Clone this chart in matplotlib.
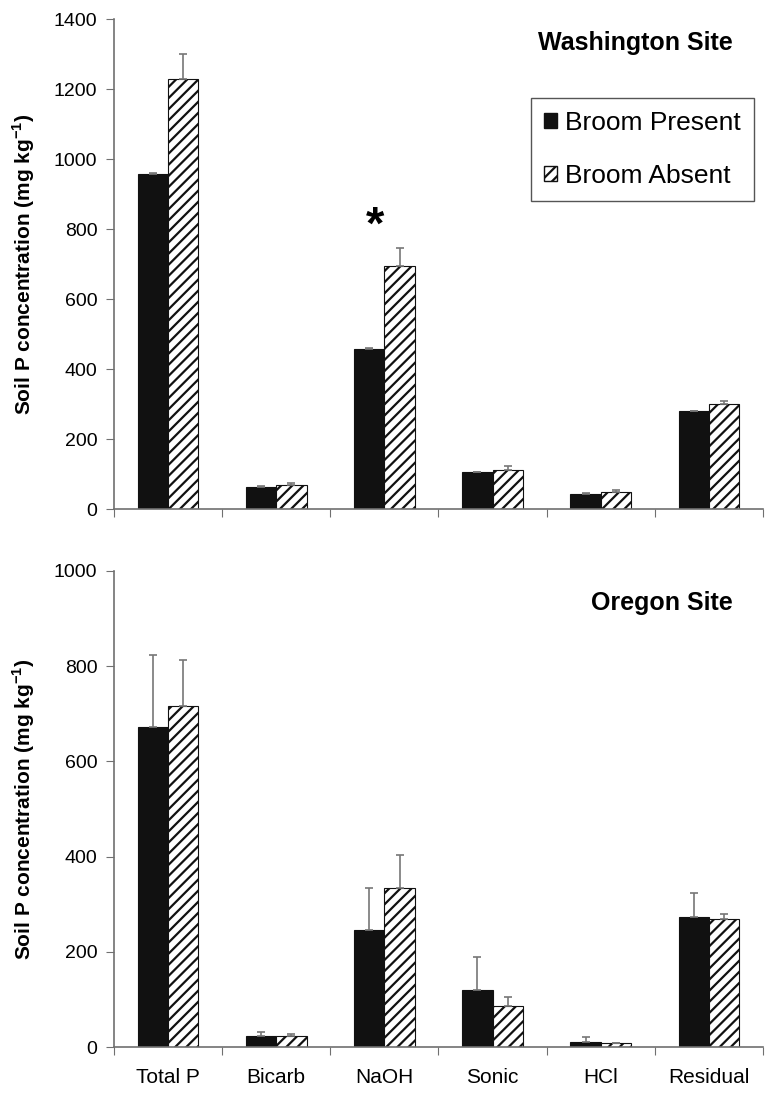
import numpy as np
import matplotlib
matplotlib.use('Agg')
import matplotlib.pyplot as plt
from matplotlib.patches import Patch

plt.rcParams['font.family'] = ['Liberation Sans', 'DejaVu Sans']
plt.rcParams['hatch.linewidth'] = 1.6
plt.rcParams['mathtext.fontset'] = 'custom'
plt.rcParams['mathtext.bf'] = 'Liberation Sans:bold'

categories = ['Total P', 'Bicarb', 'NaOH', 'Sonic', 'HCl', 'Residual']
series = ['Broom Present', 'Broom Absent']

# Washington site
wa_present = [958, 63, 457, 105, 43, 279]
wa_present_err = [3, 2, 3, 2, 2, 2]
wa_absent = [1230, 68, 693, 112, 50, 300]
wa_absent_err = [69, 5, 52, 10, 5, 9]

# Oregon site
or_present = [672, 23, 245, 120, 10, 273]
or_present_err = [152, 9, 90, 70, 11, 50]
or_absent = [716, 24, 333, 86, 8, 268]
or_absent_err = [97, 3, 71, 19, 1, 11]

BARW = 0.28
AXCOL = '#707070'

fig = plt.figure(figsize=(7.66, 10.98), dpi=100)
ax1 = fig.add_axes([114 / 766, 1 - 509 / 1098, 649 / 766, 490 / 1098])
ax2 = fig.add_axes([114 / 766, 1 - 1047 / 1098, 649 / 766, 476 / 1098])


def draw(ax, present, perr, absent, aerr, ymax, show_labels):
    x = np.arange(len(categories))
    ax.bar(x - BARW / 2, present, BARW, color='#111111', edgecolor='#111111',
           linewidth=0.8, yerr=[np.zeros(len(perr)), perr],
           error_kw=dict(ecolor='#777777', elinewidth=1.2, capsize=3, capthick=1.2),
           zorder=2)
    ax.bar(x + BARW / 2, absent, BARW, color='white', edgecolor='#111111',
           linewidth=0.8, hatch='///', yerr=[np.zeros(len(aerr)), aerr],
           error_kw=dict(ecolor='#777777', elinewidth=1.2, capsize=3, capthick=1.2),
           zorder=2)
    ax.set_xlim(-0.5, len(categories) - 0.5)
    ax.set_ylim(0, ymax)
    ax.set_yticks(np.arange(0, ymax + 1, 200))
    ax.set_xticks(np.arange(-0.5, len(categories), 1.0))
    ax.set_xticklabels([])
    if show_labels:
        ax.set_xticks(x, minor=True)
        ax.set_xticklabels(categories, minor=True, fontsize=15)
    ax.tick_params(axis='x', which='minor', length=0, pad=15)
    ax.tick_params(axis='x', which='major', direction='out', length=6, color=AXCOL)
    ax.tick_params(axis='y', direction='out', length=6, color=AXCOL, labelsize=14, pad=6)
    for s in ['top', 'right']:
        ax.spines[s].set_visible(False)
    for s in ['left', 'bottom']:
        ax.spines[s].set_color(AXCOL)
        ax.spines[s].set_linewidth(1.2)
    ax.set_ylabel(r'Soil P concentration (mg kg$^{\mathbf{-1}}$)', fontsize=15,
                  fontweight='bold')
    ax.yaxis.set_label_coords(-0.118, 0.5)


draw(ax1, wa_present, wa_present_err, wa_absent, wa_absent_err, 1400, False)
draw(ax2, or_present, or_present_err, or_absent, or_absent_err, 1000, True)

ax1.text(1.91, 806, '*', fontsize=34, fontweight='bold', ha='center', va='center')

fig.text(733 / 766, 1 - 43 / 1098, 'Washington Site', fontsize=18, fontweight='bold',
         ha='right', va='center')
fig.text(733 / 766, 1 - 603 / 1098, 'Oregon Site', fontsize=18, fontweight='bold',
         ha='right', va='center')

handles = [Patch(facecolor='#111111', edgecolor='#111111'),
           Patch(facecolor='white', edgecolor='#111111', hatch='///')]
leg = fig.legend(handles, series, loc='upper left',
                 bbox_to_anchor=(531 / 766, 1 - 98 / 1098), borderaxespad=0,
                 fontsize=19, handlelength=0.5, handleheight=0.5, handletextpad=0.3,
                 labelspacing=1.1, borderpad=0.5, fancybox=False,
                 edgecolor='#555555', framealpha=1)
leg.get_frame().set_linewidth(1.0)

fig.savefig('out.png', dpi=100)
